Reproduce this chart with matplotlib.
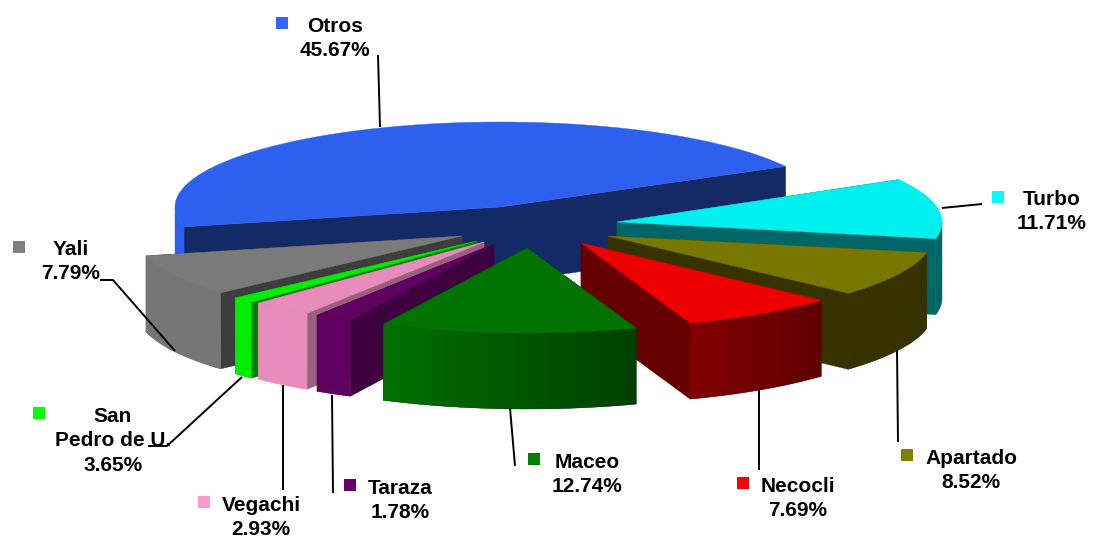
import numpy as np
import matplotlib
matplotlib.use("Agg")
import matplotlib.pyplot as plt
from matplotlib.colors import LinearSegmentedColormap

categories = ["Otros", "Yali", "San\nPedro de U.", "Vegachi", "Taraza",
              "Maceo", "Necocli", "Apartado", "Turbo"]
percent = [45.67, 7.79, 3.65, 2.93, 1.78, 12.74, 7.69, 8.52, 11.71]

# the drawn slices do not quite follow the printed percentages
angle_nudge = [-1.5, 3.1, 4.2, -4.6, -3.9, -3.4, -2.3, -1.3, -0.1, -0.1]

# layout: explode offset of each slice from the pie centre, in pixels
explode_dx = [0, -38, -23, -16, -6, 27, 81, 108, 117]
explode_dy = [0, 29, 34, 35, 37, 41, 36, 29, 15]

top_colors = ["#2d60ee", "#7a7a7a", "#00ee00", "#e88cbc", "#5f0060",
              "#007300", "#ee0000", "#787800", "#00f0f0"]
face_colors = ["#132a66", "#3d3d3d", "#008000", "#99607f", "#3f0040",
               "#003f00", "#660000", "#363300", "#006666"]
wall_left = ["#2d60ee", "#777777", "#00ee00", "#e88cbc", "#5f0060",
             "#007000", "#820000", "#363300", "#006666"]
wall_right = ["#2d60ee", "#777777", "#00ee00", "#e88cbc", "#5f0060",
              "#004000", "#600000", "#363300", "#006666"]
key_colors = ["#3366ff", "#808080", "#00ff00", "#ff99cc", "#660066",
              "#008000", "#ff0000", "#808000", "#00ffff"]

draw_order = [0, 8, 7, 6, 1, 2, 3, 4, 5]

# label centre x, first line y, key x, key y
label_x = [335, 71, 113, 261, 400, 587, 798, 971, 1052]
label_y = [25, 248, 415, 504, 487, 461, 485, 457, 198]
key_x = [282, 19, 39, 204, 350, 534, 743, 907, 998]
key_y = [23, 247, 413, 502, 485, 459, 483, 455, 197]

leaders = [
    ([378, 380], [55, 127]),
    ([100, 113, 175], [280, 280, 351]),
    ([148, 167, 242], [446, 446, 377]),
    ([283, 283], [385, 490]),
    ([332, 333], [395, 493]),
    ([510, 515], [408, 466]),
    ([759, 759], [390, 470]),
    ([897, 898], [350, 442]),
    ([942, 982], [208, 204]),
]

cx, cy = 500, 207
rx, ry = 325, 85
depth = 76
start = 30.0

shares = np.array(percent) / sum(percent) * 360
bounds = start + np.concatenate([[0], np.cumsum(shares)]) + np.array(angle_nudge)

fig = plt.figure(figsize=(10.94, 5.40), dpi=100)
ax = fig.add_axes([0, 0, 1, 1])

z = 1
for i in draw_order:
    ax0 = cx + explode_dx[i]
    ay0 = cy + explode_dy[i]
    th = np.radians(np.linspace(bounds[i], bounds[i + 1], 90))
    px = ax0 + rx * np.cos(th)
    py = ay0 - ry * np.sin(th)

    # cut faces first, then the front rim, the top goes over both
    for j in (0, -1):
        ax.fill([ax0, px[j], px[j], ax0],
                [ay0, py[j], py[j] + depth, ay0 + depth],
                color=face_colors[i], lw=0.3, zorder=z)
    front = np.sin(th) < 0
    if front.any():
        fx, fy = px[front], py[front]
        rim, = ax.fill(np.r_[fx, fx[::-1]], np.r_[fy, fy[::-1] + depth],
                       color=wall_right[i], lw=0.3, zorder=z + 1)
        cmap = LinearSegmentedColormap.from_list("w", [wall_left[i], wall_right[i]])
        im = ax.imshow(np.linspace(0, 1, 256)[None, :], cmap=cmap, aspect="auto",
                       extent=[fx.min(), fx.max(), fy.max() + depth, fy.min()],
                       zorder=z + 1)
        im.set_clip_path(rim)
    ax.fill(np.r_[ax0, px], np.r_[ay0, py], color=top_colors[i], lw=0.3, zorder=z + 2)
    z += 3

for xs, ys in leaders:
    ax.plot(xs, ys, color="black", lw=1.4, solid_capstyle="butt", zorder=z)

for i, name in enumerate(categories):
    ax.text(label_x[i], label_y[i] - 8, f"{name}\n{percent[i]:.2f}%",
            ha="center", va="top", fontsize=15, fontweight="bold",
            family="Liberation Sans", linespacing=1.36, color="black", zorder=z + 1)
    ax.scatter(key_x[i], key_y[i], marker="s", s=65, color=key_colors[i], lw=0, zorder=z + 1)

ax.set_xlim(0, 1094)
ax.set_ylim(540, 0)
ax.axis("off")
fig.savefig("out.png", dpi=100)
